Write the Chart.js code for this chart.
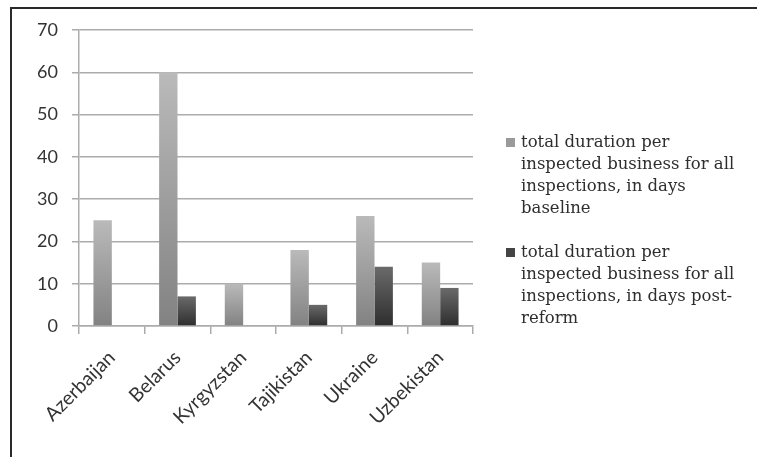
<!DOCTYPE html>
<html>
<head>
<meta charset="utf-8">
<script src="https://cdn.jsdelivr.net/npm/chart.js@4/dist/chart.umd.min.js"></script>
<style>
    html, body { margin: 0; padding: 0; background: #fff; overflow: hidden; }
    #wrap { position: relative; width: 757px; height: 457px; }
    #frame {
        position: absolute; left: 10px; top: 7px; width: 900px; height: 600px;
        border-top: 2px solid #2a2a2a; border-left: 2px solid #2a2a2a;
        pointer-events: none;
    }
    #legend {
        position: absolute; left: 506px; top: 131px; width: 243px;
        font-family: 'DejaVu Serif', serif; font-size: 16.5px; line-height: 22px; color: #2e2e2e;
    }
    .item { position: relative; padding-left: 15px; margin-bottom: 22px; }
    .box { position: absolute; left: 0; top: 7px; width: 9px; height: 9px; }
</style>
</head>
<body>
<div id="wrap">
    <canvas id="chart" width="757" height="457"></canvas>
    <div id="frame"></div>
    <div id="legend"></div>
</div>
<script>
    const countries = ['Azerbaijan', 'Belarus', 'Kyrgyzstan', 'Tajikistan', 'Ukraine', 'Uzbekistan'];
    const baseline = [25, 60, 10, 18, 26, 15];
    const postReform = [null, 7, null, 5, 14, 9];
    const seriesNames = [
        'total duration per inspected business for all inspections, in days baseline',
        'total duration per inspected business for all inspections, in days post-reform'
    ];
    const yTicks = [0, 10, 20, 30, 40, 50, 60, 70];

    // vertical gradient per bar, light on top, darker at the base
    function barShade(top, bottom) {
        return function (ctx) {
            let chart = ctx.chart;
            if (!chart.chartArea || ctx.raw == null) return bottom;
            let y = chart.scales.y;
            let y0 = y.getPixelForValue(ctx.raw);
            let y1 = y.getPixelForValue(0);
            let g = chart.ctx.createLinearGradient(0, y0, 0, y1);
            g.addColorStop(0, top);
            g.addColorStop(1, bottom);
            return g;
        }
    }

    const gridColor = '#ababab';

    let chart = new Chart(document.getElementById('chart').getContext('2d'), {
        type: 'bar',
        data: {
            labels: countries,
            datasets: [
                {
                    label: seriesNames[0],
                    data: baseline,
                    backgroundColor: barShade('#bababa', '#828282'),
                    legendColor: '#9a9a9a'
                },
                {
                    label: seriesNames[1],
                    data: postReform,
                    backgroundColor: barShade('#6a6a6a', '#2e2e2e'),
                    legendColor: '#444444'
                }
            ]
        },
        options: {
            responsive: false,
            animation: false,
            layout: {padding: {top: 30, left: 0, right: 284, bottom: 0}},
            datasets: {bar: {categoryPercentage: 0.56, barPercentage: 1.0}},
            plugins: {legend: {display: false}, tooltip: {enabled: false}},
            scales: {
                x: {
                    afterFit: function (scale) { scale.height = 131; },
                    grid: {drawOnChartArea: false, drawTicks: true, tickLength: 8, color: gridColor, lineWidth: 1.5},
                    border: {color: gridColor, width: 1.5},
                    ticks: {
                        minRotation: 45, maxRotation: 45, padding: 12,
                        color: '#333',
                        font: {family: 'Lato', size: 19.5}
                    }
                },
                y: {
                    min: 0, max: 70,
                    afterFit: function (scale) { scale.width = 79; },
                    afterBuildTicks: function (scale) { scale.ticks = yTicks.map(v => ({value: v})); },
                    grid: {color: gridColor, lineWidth: 1.5, tickLength: 7},
                    border: {color: gridColor, width: 1.5},
                    ticks: {
                        padding: 14,
                        color: '#333',
                        font: {family: 'Lato', size: 18}
                    }
                }
            }
        }
    });

    // legend as html so the long labels can wrap like the original
    let legend = document.getElementById('legend');
    chart.data.datasets.forEach(function (ds) {
        let item = document.createElement('div');
        item.className = 'item';
        let box = document.createElement('span');
        box.className = 'box';
        box.style.background = ds.legendColor;
        item.appendChild(box);
        item.appendChild(document.createTextNode(ds.label));
        legend.appendChild(item);
    });
</script>
</body>
</html>
